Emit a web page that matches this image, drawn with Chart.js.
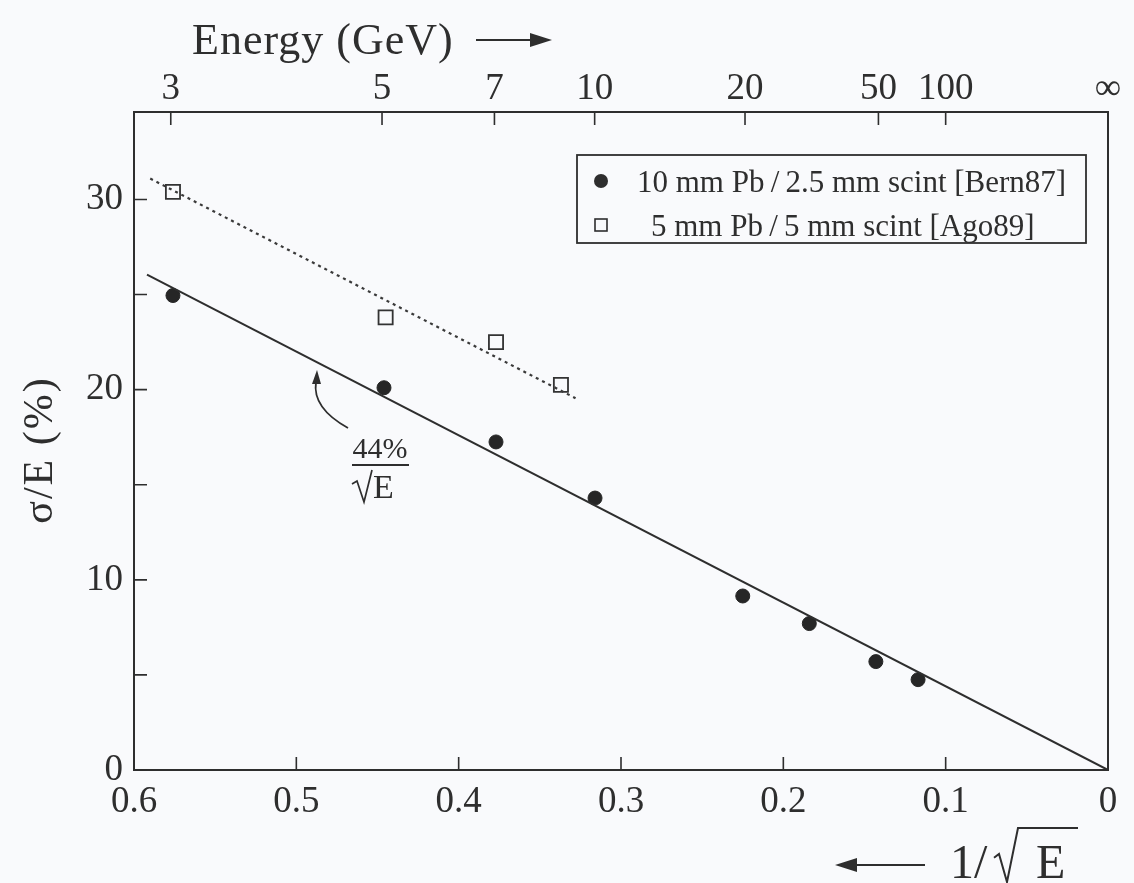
<!DOCTYPE html>
<html>
<head>
<meta charset="utf-8">
<script src="https://cdn.jsdelivr.net/npm/chart.js@4.4.0/dist/chart.umd.min.js"></script>
<style>
  html, body { margin: 0; padding: 0; background: #f9fafc; }
  #wrap { width: 1134px; height: 883px; }
</style>
</head>
<body>
<div id="wrap"><canvas id="chart" width="1134" height="883"></canvas></div>
<script>
// 10 mm Pb / 2.5 mm scint [Bern87]
const bernX = [0.576, 0.446, 0.377, 0.316, 0.225, 0.184, 0.143, 0.117];
const bernY = [24.95, 20.1, 17.25, 14.3, 9.15, 7.7, 5.7, 4.75];
// 5 mm Pb / 5 mm scint [Ago89]
const agoX = [0.576, 0.445, 0.377, 0.337];
const agoY = [30.4, 23.8, 22.5, 20.25];
// 44%/sqrt(E) line and dotted line through Ago89
const fitX = [0.592, 0];
const fitY = [26.05, 0];
const dotX = [0.590, 0.328];
const dotY = [31.1, 19.55];

const bottomTicks = [0, 0.1, 0.2, 0.3, 0.4, 0.5, 0.6];
const leftTicks = [0, 5, 10, 15, 20, 25, 30];
const energyTicks = [3, 5, 7, 10, 20, 50, 100, Infinity];
const energyLabels = ["3", "5", "7", "10", "20", "50", "100", "∞"];
const legendLabels = ["10 mm Pb\u2009/\u20092.5 mm scint [Bern87]", "5 mm Pb\u2009/\u20095 mm scint [Ago89]"];

const ink = "#2e2e2e";
const serif = "'Liberation Serif', 'DejaVu Serif', serif";
const pts = (xs, ys) => xs.map((x, i) => ({ x, y: ys[i] }));

function radical(ctx, x, base, h, w) {
  // simple square-root sign with overbar
  ctx.beginPath();
  ctx.moveTo(x, base - h * 0.45);
  ctx.lineTo(x + 5, base - h * 0.52);
  ctx.lineTo(x + 13, base);
  ctx.lineTo(x + 24, base - h);
  ctx.lineTo(x + 24 + w, base - h);
  ctx.stroke();
}

const decor = {
  id: "decor",
  beforeDatasetsDraw(chart) {
    const { ctx, chartArea: a, scales } = chart;
    ctx.save();
    ctx.strokeStyle = ink;
    ctx.lineWidth = 2;
    ctx.strokeRect(a.left, a.top, a.right - a.left, a.bottom - a.top);
    ctx.lineWidth = 1.6;
    const tl = 13;
    ctx.beginPath();
    scales.x.ticks.forEach(t => {
      const px = scales.x.getPixelForValue(t.value);
      ctx.moveTo(px, a.bottom); ctx.lineTo(px, a.bottom - tl);
    });
    scales.x2.ticks.forEach(t => {
      const px = scales.x2.getPixelForValue(t.value);
      if (t.value > 0) { ctx.moveTo(px, a.top); ctx.lineTo(px, a.top + tl); }
    });
    scales.y.ticks.forEach(t => {
      const py = scales.y.getPixelForValue(t.value);
      ctx.moveTo(a.left, py); ctx.lineTo(a.left + tl, py);
    });
    ctx.stroke();
    ctx.restore();
  },
  afterDraw(chart) {
    const { ctx } = chart;
    ctx.save();
    ctx.fillStyle = ink;
    ctx.strokeStyle = ink;

    // top title
    ctx.font = "44px " + serif;
    ctx.textBaseline = "alphabetic";
    try { ctx.letterSpacing = "1px"; } catch (e) {}
    ctx.fillText("Energy (GeV)", 192, 54);
    try { ctx.letterSpacing = "0px"; } catch (e) {}
    ctx.lineWidth = 2;
    ctx.beginPath(); ctx.moveTo(476, 40); ctx.lineTo(535, 40); ctx.stroke();
    ctx.beginPath(); ctx.moveTo(552, 40); ctx.lineTo(530, 33); ctx.lineTo(530, 47); ctx.closePath(); ctx.fill();

    // bottom title
    ctx.beginPath(); ctx.moveTo(925, 865); ctx.lineTo(852, 865); ctx.stroke();
    ctx.beginPath(); ctx.moveTo(835, 865); ctx.lineTo(857, 858); ctx.lineTo(857, 872); ctx.closePath(); ctx.fill();
    ctx.font = "48px " + serif;
    ctx.fillText("1/", 950, 878);
    ctx.lineWidth = 2;
    radical(ctx, 994, 882, 54, 60);
    ctx.fillText("E", 1036, 878);

    // y title
    ctx.save();
    ctx.translate(52, 450);
    ctx.rotate(-Math.PI / 2);
    ctx.font = "42px " + serif;
    ctx.textAlign = "center";
    try { ctx.letterSpacing = "2px"; } catch (e) {}
    ctx.fillText("σ/E (%)", 0, 0);
    ctx.restore();

    // legend
    ctx.lineWidth = 1.8;
    ctx.strokeRect(577, 155, 509, 88);
    ctx.beginPath(); ctx.arc(601, 181, 7, 0, Math.PI * 2); ctx.fill();
    ctx.fillStyle = "#f9fafc";
    ctx.fillRect(595, 219, 12, 12);
    ctx.lineWidth = 1.6;
    ctx.strokeRect(595, 219, 12, 12);
    ctx.fillStyle = ink;
    ctx.font = "31px " + serif;
    ctx.fillText(legendLabels[0], 637, 192);
    ctx.fillText(legendLabels[1], 651, 236);

    // 44%/sqrt(E) annotation
    ctx.lineWidth = 1.8;
    ctx.beginPath();
    ctx.moveTo(348, 428);
    ctx.quadraticCurveTo(312, 408, 316, 382);
    ctx.stroke();
    ctx.beginPath(); ctx.moveTo(317, 370); ctx.lineTo(312, 384); ctx.lineTo(321, 384); ctx.closePath(); ctx.fill();
    ctx.font = "30px " + serif;
    ctx.textAlign = "center";
    ctx.fillText("44%", 380, 458);
    ctx.beginPath(); ctx.moveTo(352, 465); ctx.lineTo(409, 465); ctx.stroke();
    ctx.textAlign = "left";
    ctx.font = "34px " + serif;
    ctx.fillText("E", 373, 498);
    ctx.lineWidth = 1.7;
    ctx.beginPath();
    ctx.moveTo(352, 484); ctx.lineTo(357, 481); ctx.lineTo(364, 502); ctx.lineTo(372, 470);
    ctx.stroke();
    ctx.restore();
  }
};

const tickFont = { family: serif, size: 37 };

new Chart(document.getElementById("chart"), {
  type: "scatter",
  data: {
    datasets: [
      { label: "fit", data: pts(fitX, fitY), showLine: true, borderColor: ink, borderWidth: 2, pointRadius: 0 },
      { label: "dotted", data: pts(dotX, dotY), showLine: true, borderColor: "#3a3a3a", borderWidth: 2.2, borderDash: [3, 4], pointRadius: 0 },
      { label: legendLabels[0], data: pts(bernX, bernY), pointStyle: "circle", pointRadius: 7, backgroundColor: "#262626", borderColor: "#262626", borderWidth: 1 },
      { label: legendLabels[1], data: pts(agoX, agoY), pointStyle: "rect", pointRadius: 10, backgroundColor: "#f9fafc", borderColor: "#333", borderWidth: 1.8 }
    ]
  },
  options: {
    responsive: false,
    animation: false,
    layout: { padding: { left: 0, right: 26, top: 0, bottom: 0 } },
    plugins: { legend: { display: false }, tooltip: { enabled: false } },
    scales: {
      x: {
        type: "linear", position: "bottom", reverse: true, min: 0, max: 0.6,
        grid: { display: false, drawTicks: false }, border: { display: false },
        afterBuildTicks: s => { s.ticks = bottomTicks.map(v => ({ value: v })); },
        afterFit: s => { s.height = 113; },
        ticks: { autoSkip: false, maxRotation: 0, padding: 10, color: ink, font: tickFont, callback: v => String(v) }
      },
      x2: {
        type: "linear", position: "top", reverse: true, min: 0, max: 0.6,
        grid: { display: false, drawTicks: false }, border: { display: false },
        afterBuildTicks: s => { s.ticks = energyTicks.map(e => ({ value: e === Infinity ? 0 : 1 / Math.sqrt(e) })); },
        afterFit: s => { s.height = 112; },
        ticks: { autoSkip: false, maxRotation: 0, padding: 1, color: ink, font: tickFont, callback: (v, i) => energyLabels[i] }
      },
      y: {
        type: "linear", position: "left", min: 0, max: 34.6,
        grid: { display: false, drawTicks: false }, border: { display: false },
        afterBuildTicks: s => { s.ticks = leftTicks.map(v => ({ value: v })); },
        afterFit: s => { s.width = 134; },
        ticks: { autoSkip: false, padding: 11, color: ink, font: tickFont, callback: v => (v % 10 === 0 ? String(v) : "") }
      }
    }
  },
  plugins: [decor]
});
</script>
</body>
</html>
